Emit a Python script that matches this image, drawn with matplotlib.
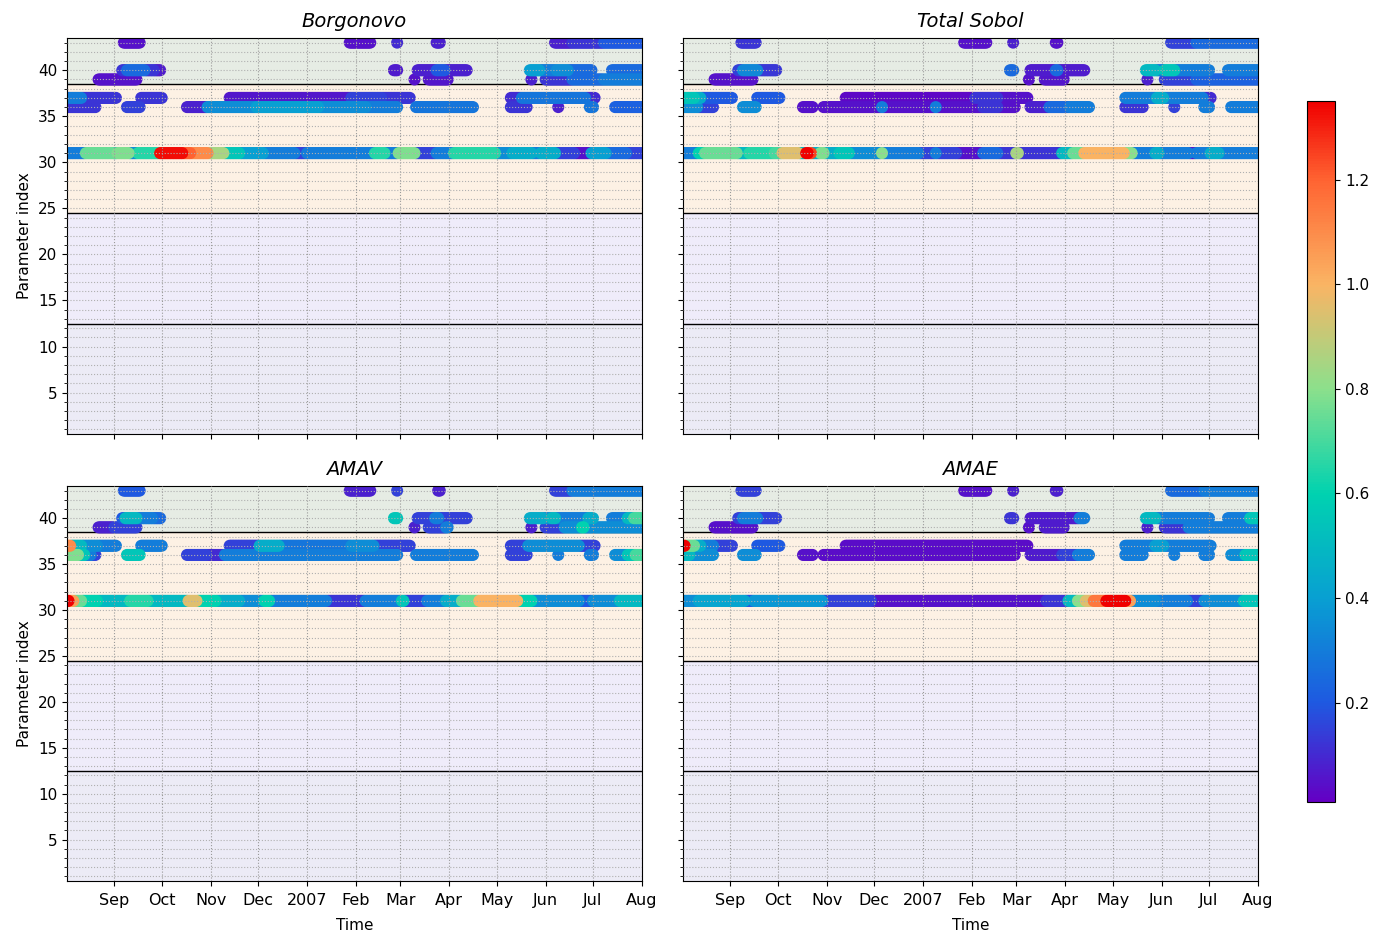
import numpy as np
import pandas as pd
import matplotlib
matplotlib.use('Agg')
import matplotlib.pyplot as plt
import matplotlib.dates as mdates
from matplotlib.colors import LinearSegmentedColormap
from matplotlib.ticker import MultipleLocator

# daily index: day 0 = 2006-08-01, day 365 = 2007-08-01
START = pd.Timestamp('2006-08-01')

METHODS = ['Borgonovo', 'Total Sobol', 'AMAV', 'AMAE']

# runs of (first day, last day, sensitivity) for each parameter index
borgonovo = {
    43: [(37, 47, 0.05), (180, 193, 0.05), (210, 210, 0.1), (235, 237, 0.08),
         (310, 320, 0.08), (321, 340, 0.12), (341, 365, 0.2)],
    40: [(36, 38, 0.12), (39, 50, 0.25), (51, 56, 0.12), (57, 60, 0.07),
         (208, 210, 0.07), (223, 234, 0.08), (235, 240, 0.2), (241, 254, 0.08),
         (294, 300, 0.4), (301, 310, 0.3), (311, 318, 0.35), (319, 333, 0.25),
         (346, 365, 0.25)],
    39: [(21, 45, 0.05), (221, 221, 0.05), (230, 242, 0.06), (295, 295, 0.08),
         (304, 320, 0.12), (321, 340, 0.25), (341, 365, 0.3)],
    37: [(0, 2, 0.15), (3, 10, 0.3), (11, 32, 0.12), (48, 61, 0.12),
         (104, 180, 0.06), (181, 200, 0.15), (201, 218, 0.12), (282, 288, 0.1),
         (289, 329, 0.28), (330, 335, 0.1)],
    36: [(0, 19, 0.12), (39, 47, 0.15), (77, 89, 0.08), (90, 120, 0.35),
         (121, 160, 0.4), (161, 190, 0.35), (191, 210, 0.3), (222, 258, 0.28),
         (282, 292, 0.12), (312, 312, 0.08), (332, 334, 0.28), (348, 365, 0.22)],
    31: [(0, 12, 0.3), (13, 30, 0.75), (31, 32, 0.5), (33, 40, 0.78),
         (41, 45, 0.35), (46, 59, 0.65), (60, 74, 1.33), (75, 79, 1.2),
         (80, 90, 1.1), (91, 100, 0.85), (101, 110, 0.55), (111, 125, 0.4),
         (126, 145, 0.3), (146, 152, 0.15), (153, 195, 0.3), (196, 202, 0.65),
         (203, 210, 0.3), (211, 221, 0.78), (222, 234, 0.15), (235, 245, 0.3),
         (246, 272, 0.65), (273, 282, 0.35), (283, 295, 0.45), (296, 300, 0.3),
         (301, 310, 0.45), (311, 322, 0.15), (323, 332, 0.05), (333, 342, 0.4),
         (343, 355, 0.25), (356, 365, 0.15)],
}

total_sobol = {
    43: [(38, 47, 0.12), (179, 193, 0.05), (210, 210, 0.08), (237, 238, 0.05),
         (310, 325, 0.15), (326, 365, 0.25)],
    40: [(36, 38, 0.15), (39, 48, 0.33), (49, 60, 0.13), (208, 210, 0.25),
         (221, 236, 0.07), (237, 238, 0.25), (239, 255, 0.07), (294, 300, 0.5),
         (301, 305, 0.3), (306, 312, 0.55), (313, 334, 0.3), (346, 365, 0.3)],
    39: [(21, 45, 0.05), (220, 220, 0.05), (230, 242, 0.06), (295, 295, 0.08),
         (306, 325, 0.15), (326, 365, 0.22)],
    37: [(0, 8, 0.55), (9, 12, 0.45), (13, 32, 0.2), (48, 62, 0.2),
         (104, 185, 0.03), (186, 200, 0.12), (201, 219, 0.05), (281, 300, 0.3),
         (301, 305, 0.45), (306, 330, 0.3), (331, 335, 0.1)],
    36: [(0, 10, 0.35), (11, 20, 0.15), (39, 47, 0.35), (77, 83, 0.05),
         (90, 126, 0.05), (127, 127, 0.3), (128, 160, 0.05), (161, 161, 0.3),
         (162, 190, 0.05), (191, 200, 0.12), (201, 211, 0.05), (221, 232, 0.08),
         (233, 245, 0.25), (246, 258, 0.3), (281, 292, 0.12), (312, 312, 0.15),
         (331, 334, 0.3), (348, 365, 0.3)],
    31: [(0, 10, 0.3), (11, 14, 0.6), (15, 35, 0.75), (36, 42, 0.5),
         (43, 58, 0.65), (59, 63, 0.7), (64, 74, 0.95), (75, 78, 0.5),
         (79, 80, 1.35), (81, 82, 1.25), (83, 87, 0.45), (88, 90, 0.78),
         (91, 99, 0.45), (100, 106, 0.55), (107, 126, 0.35), (127, 127, 0.8),
         (128, 150, 0.3), (151, 160, 0.15), (161, 161, 0.3), (162, 174, 0.15),
         (175, 190, 0.05), (191, 200, 0.25), (201, 211, 0.12), (212, 213, 0.85),
         (214, 240, 0.12), (241, 247, 0.5), (248, 254, 0.75), (255, 280, 1.0),
         (281, 285, 0.8), (286, 299, 0.3), (300, 302, 0.45), (303, 321, 0.3),
         (322, 325, 0.05), (326, 334, 0.3), (335, 340, 0.45), (341, 365, 0.3)],
}

amav = {
    43: [(37, 47, 0.2), (180, 193, 0.08), (210, 210, 0.15), (236, 237, 0.08),
         (310, 320, 0.15), (321, 365, 0.3)],
    40: [(36, 37, 0.2), (38, 45, 0.5), (46, 55, 0.3), (56, 60, 0.25),
         (208, 210, 0.55), (223, 233, 0.15), (234, 236, 0.3), (237, 254, 0.15),
         (294, 302, 0.45), (303, 307, 0.35), (308, 310, 0.5), (311, 330, 0.3),
         (331, 334, 0.45), (346, 355, 0.3), (356, 359, 0.5), (360, 365, 0.7)],
    39: [(21, 30, 0.08), (31, 45, 0.15), (221, 221, 0.08), (230, 240, 0.15),
         (241, 242, 0.3), (295, 295, 0.08), (304, 315, 0.15), (316, 326, 0.35),
         (327, 328, 0.6), (329, 365, 0.35)],
    37: [(0, 3, 1.1), (4, 10, 0.5), (11, 20, 0.35), (21, 32, 0.3), (48, 61, 0.3),
         (104, 122, 0.15), (123, 135, 0.45), (136, 180, 0.28), (181, 195, 0.35),
         (196, 218, 0.15), (282, 292, 0.15), (293, 325, 0.35), (326, 335, 0.15)],
    36: [(0, 8, 0.78), (9, 12, 0.55), (13, 16, 0.3), (17, 19, 0.15),
         (39, 47, 0.55), (77, 89, 0.15), (90, 100, 0.1), (101, 210, 0.3),
         (222, 258, 0.3), (282, 292, 0.15), (312, 312, 0.3), (332, 334, 0.3),
         (348, 355, 0.35), (356, 360, 0.55), (361, 365, 0.7)],
    31: [(0, 2, 1.35), (3, 5, 1.05), (6, 10, 0.75), (11, 20, 0.6), (21, 40, 0.5),
         (41, 52, 0.65), (53, 77, 0.5), (78, 83, 0.95), (84, 95, 0.6),
         (96, 110, 0.45), (111, 125, 0.35), (126, 129, 0.6), (130, 165, 0.3),
         (166, 189, 0.12), (190, 212, 0.3), (213, 214, 0.55), (215, 228, 0.15),
         (229, 240, 0.3), (241, 250, 0.45), (251, 261, 0.75), (262, 286, 1.0),
         (287, 295, 0.6), (296, 325, 0.35), (326, 333, 0.2), (334, 350, 0.35),
         (351, 365, 0.5)],
}

amae = {
    43: [(38, 47, 0.15), (179, 193, 0.05), (210, 210, 0.08), (237, 238, 0.08),
         (310, 330, 0.25), (331, 365, 0.3)],
    40: [(36, 38, 0.15), (39, 48, 0.3), (49, 60, 0.15), (208, 210, 0.12),
         (221, 251, 0.07), (252, 255, 0.3), (294, 300, 0.5), (301, 334, 0.3),
         (346, 359, 0.3), (360, 365, 0.55)],
    39: [(21, 45, 0.05), (220, 220, 0.05), (230, 242, 0.07), (295, 295, 0.08),
         (306, 320, 0.12), (321, 365, 0.3)],
    37: [(0, 2, 1.35), (3, 8, 0.75), (9, 12, 0.45), (13, 20, 0.3), (21, 32, 0.15),
         (48, 62, 0.2), (104, 219, 0.04), (281, 299, 0.3), (300, 305, 0.4),
         (306, 335, 0.3)],
    36: [(0, 5, 0.5), (6, 20, 0.35), (39, 47, 0.35), (77, 83, 0.05),
         (90, 211, 0.04), (221, 240, 0.07), (241, 250, 0.15), (251, 258, 0.3),
         (281, 292, 0.3), (312, 312, 0.3), (331, 334, 0.3), (348, 356, 0.35),
         (357, 365, 0.55)],
    31: [(0, 10, 0.35), (11, 40, 0.42), (41, 45, 0.2), (46, 89, 0.38),
         (90, 120, 0.15), (121, 230, 0.05), (231, 244, 0.12), (245, 250, 0.5),
         (251, 255, 0.8), (256, 260, 0.95), (261, 268, 1.15), (269, 281, 1.35),
         (282, 284, 1.05), (285, 300, 0.35), (301, 320, 0.3), (321, 330, 0.15),
         (331, 355, 0.35), (356, 365, 0.55)],
}

# parameter groups shaded behind the points
band_edges = [0.5, 12.5, 24.5, 38.5, 43.5]
band_colors = ['#ecebf6', '#efecfa', '#fdf1e4', '#e6ece4']

VMIN, VMAX = 0.01, 1.35

# purple -> blue -> teal -> green -> orange -> red
cmap = LinearSegmentedColormap.from_list('sens', [
    (0.000, '#6400c4'),
    (0.142, '#1e5ae1'),
    (0.291, '#08a0d2'),
    (0.440, '#00d2b0'),
    (0.590, '#8ce08c'),
    (0.739, '#fab464'),
    (0.888, '#ff6432'),
    (1.000, '#f00000'),
])


def expand(runs):
    t, p, v = [], [], []
    for param, segs in runs.items():
        for a, b, val in segs:
            for d in range(a, b + 1):
                t.append(START + pd.Timedelta(days=d))
                p.append(param)
                v.append(val)
    t = np.array(t, dtype='datetime64[ns]')
    p = np.array(p)
    v = np.array(v)
    order = np.argsort(v, kind='stable')  # largest values drawn on top
    return t[order], p[order], v[order]


fig = plt.figure(figsize=(13.89, 9.32), dpi=100)
positions = [
    [0.0482, 0.5343, 0.4140, 0.4249],
    [0.4917, 0.5343, 0.4140, 0.4249],
    [0.0482, 0.0547, 0.4140, 0.4238],
    [0.4917, 0.0547, 0.4140, 0.4238],
]

sc = None
for i, (name, runs) in enumerate(zip(METHODS, [borgonovo, total_sobol, amav, amae])):
    ax = fig.add_axes(positions[i])
    for lo, hi, c in zip(band_edges[:-1], band_edges[1:], band_colors):
        ax.axhspan(lo, hi, color=c, zorder=0, lw=0)
    for y in band_edges[1:-1]:
        ax.axhline(y, color='black', lw=1.0, zorder=1)

    t, p, v = expand(runs)
    sc = ax.scatter(t, p, c=v, cmap=cmap, vmin=VMIN, vmax=VMAX,
                    s=75, edgecolors='none', zorder=2)

    ax.set_xlim(pd.Timestamp('2006-08-02'), pd.Timestamp('2007-08-01'))
    ax.set_ylim(0.5, 43.5)
    ax.yaxis.set_major_locator(MultipleLocator(5))
    ax.yaxis.set_minor_locator(MultipleLocator(1))
    loc = mdates.MonthLocator()
    ax.xaxis.set_major_locator(loc)
    ax.xaxis.set_major_formatter(mdates.ConciseDateFormatter(loc, show_offset=False))
    ax.grid(which='major', axis='x', ls=':', color='#9a9a9a', lw=0.8, zorder=1.5)
    ax.grid(which='both', axis='y', ls=':', color='#b0b0b0', lw=0.8, zorder=1.5)
    ax.set_axisbelow(False)
    ax.set_title(name, style='italic', fontsize=14, pad=8)
    ax.tick_params(labelsize=11)
    ax.tick_params(axis='x', labelsize=11.5, pad=5)

    if i % 2 == 0:
        ax.set_ylabel('Parameter index', fontsize=11)
    else:
        ax.tick_params(labelleft=False)
    if i >= 2:
        ax.set_xlabel('Time', fontsize=11, labelpad=7)
    else:
        ax.tick_params(labelbottom=False)

cax = fig.add_axes([0.941, 0.1395, 0.0202, 0.752])
cb = fig.colorbar(sc, cax=cax)
cb.ax.tick_params(labelsize=11)

fig.savefig('out.png', dpi=100)
